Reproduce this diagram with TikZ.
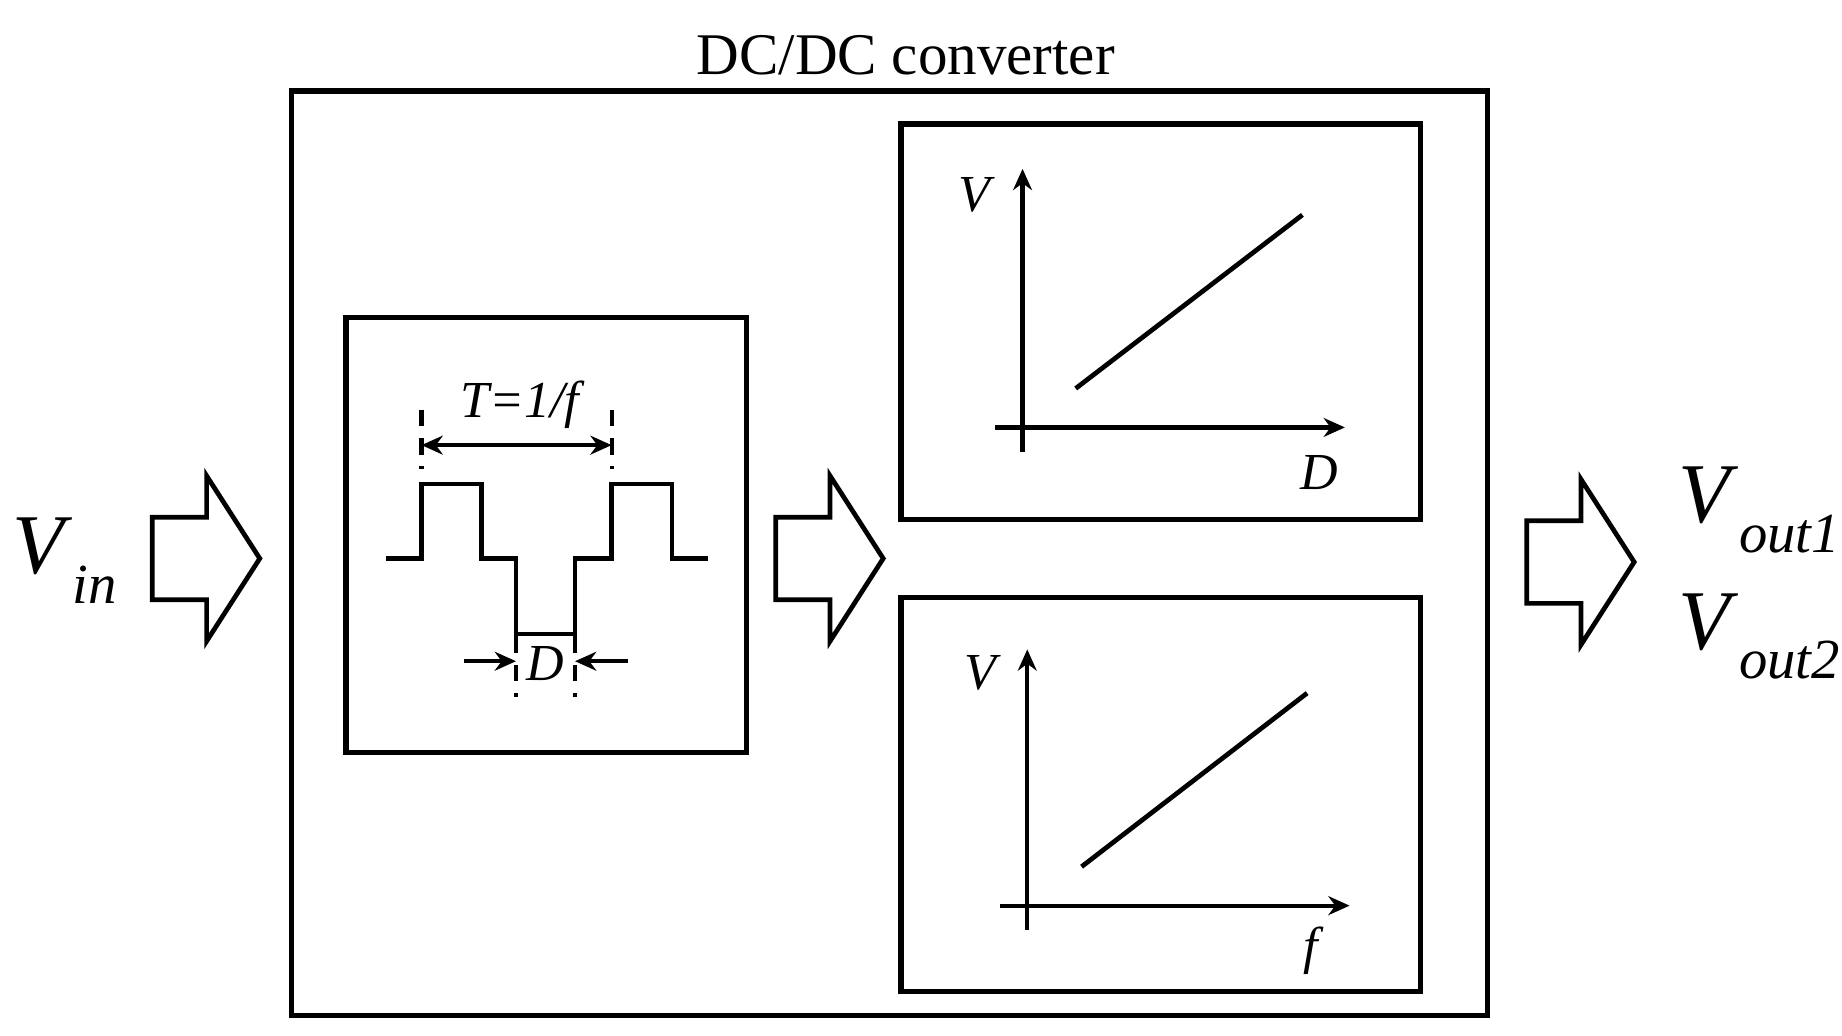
\documentclass[tikz,border=0pt]{standalone}
\usepackage{fontspec}
\setmainfont{Liberation Serif}
\usetikzlibrary{arrows.meta}
\begin{document}
\begin{tikzpicture}[x=0.5pt,y=-0.5pt,line width=2pt,
  box/.style={draw,line width=2.2pt},
  ar/.style={-{Stealth[length=9pt,width=8pt]},line width=1.8pt},
  dsh/.style={line width=1.8pt,dash pattern=on 7pt off 5pt},
  blk/.style={line width=2pt,line join=miter},
  lbl/.style={font=\fontsize{22}{24}\selectfont\itshape,inner sep=0pt}]
\useasboundingbox (0,0) rectangle (1560,877);
\node[font=\fontsize{25}{28}\selectfont,inner sep=0pt] (title) at (767,47) {DC/DC converter};
\draw[box] (247,77) rectangle (1260,860);
\draw[box] (293,269) rectangle (632,637);
\draw[blk] (327,473) -- (357,473) -- (357,410) -- (408,410) -- (408,473) -- (437,473) -- (437,537) -- (487,537) -- (487,473) -- (518,473) -- (518,410) -- (569,410) -- (569,473) -- (600,473);
\coordinate (t1) at (357,377); \coordinate (t2) at (518,377);
\draw[dsh] (357,347) -- (357,397); \draw[dsh] (518,347) -- (518,397);
\draw[{Stealth[length=9pt,width=8pt]}-{Stealth[length=9pt,width=8pt]},line width=1.8pt] (t1) -- (t2);
\node[lbl] (T) at (440,343) {T=1/f};
\draw[dsh] (437,539) -- (437,590); \draw[dsh] (487,539) -- (487,590);
\coordinate (d1a) at (393,560); \coordinate (d1b) at (437,560);
\coordinate (d2a) at (532,560); \coordinate (d2b) at (487,560);
\draw[ar] (d1a) -- (d1b); \draw[ar] (d2a) -- (d2b);
\node[lbl] (Dl) at (462,562) {D};
% top graph
\draw[box] (763,105) rectangle (1203,440);
\coordinate (a1) at (866,383); \coordinate (a2) at (866,143);
\coordinate (b1) at (843,362); \coordinate (b2) at (1139,362);
\draw[ar] (a1) -- (a2); \draw[ar] (b1) -- (b2);
\coordinate (l1) at (911,329); \coordinate (l2) at (1103,182);
\draw (l1) -- (l2);
\node[lbl] (V1) at (825,165) {V};
\node[lbl] (D1) at (1117,400) {D};
% bottom graph
\draw[box] (763,506) rectangle (1203,840);
\coordinate (c1) at (870,788); \coordinate (c2) at (870,550);
\coordinate (e1) at (847,767); \coordinate (e2) at (1143,767);
\draw[ar] (c1) -- (c2); \draw[ar] (e1) -- (e2);
\coordinate (m1) at (916,734); \coordinate (m2) at (1107,587);
\draw (m1) -- (m2);
\node[lbl] (V2) at (830,570) {V};
\node[lbl] (F2) at (1110,805) {f};
% block arrows
\foreach \x/\y in {129/473, 657/473, 1293/476}{
  \draw[blk] (\x,\y-35) -- (\x+46,\y-35) -- (\x+46,\y-70) -- (\x+91,\y) -- (\x+46,\y+70) -- (\x+46,\y+35) -- (\x,\y+35) -- cycle;
}
\node[font=\fontsize{36}{40}\selectfont,inner sep=0pt] (vin) at (55,475) {\textit{V}\raisebox{-0.35em}{\fontsize{24}{26}\selectfont\textit{in}}};
\node[font=\fontsize{36}{40}\selectfont,inner sep=0pt] (vo1) at (1490,432) {\textit{V}\raisebox{-0.35em}{\fontsize{24}{26}\selectfont\textit{out1}}};
\node[font=\fontsize{36}{40}\selectfont,inner sep=0pt] (vo2) at (1490,539) {\textit{V}\raisebox{-0.35em}{\fontsize{24}{26}\selectfont\textit{out2}}};
\end{tikzpicture}
\end{document}
